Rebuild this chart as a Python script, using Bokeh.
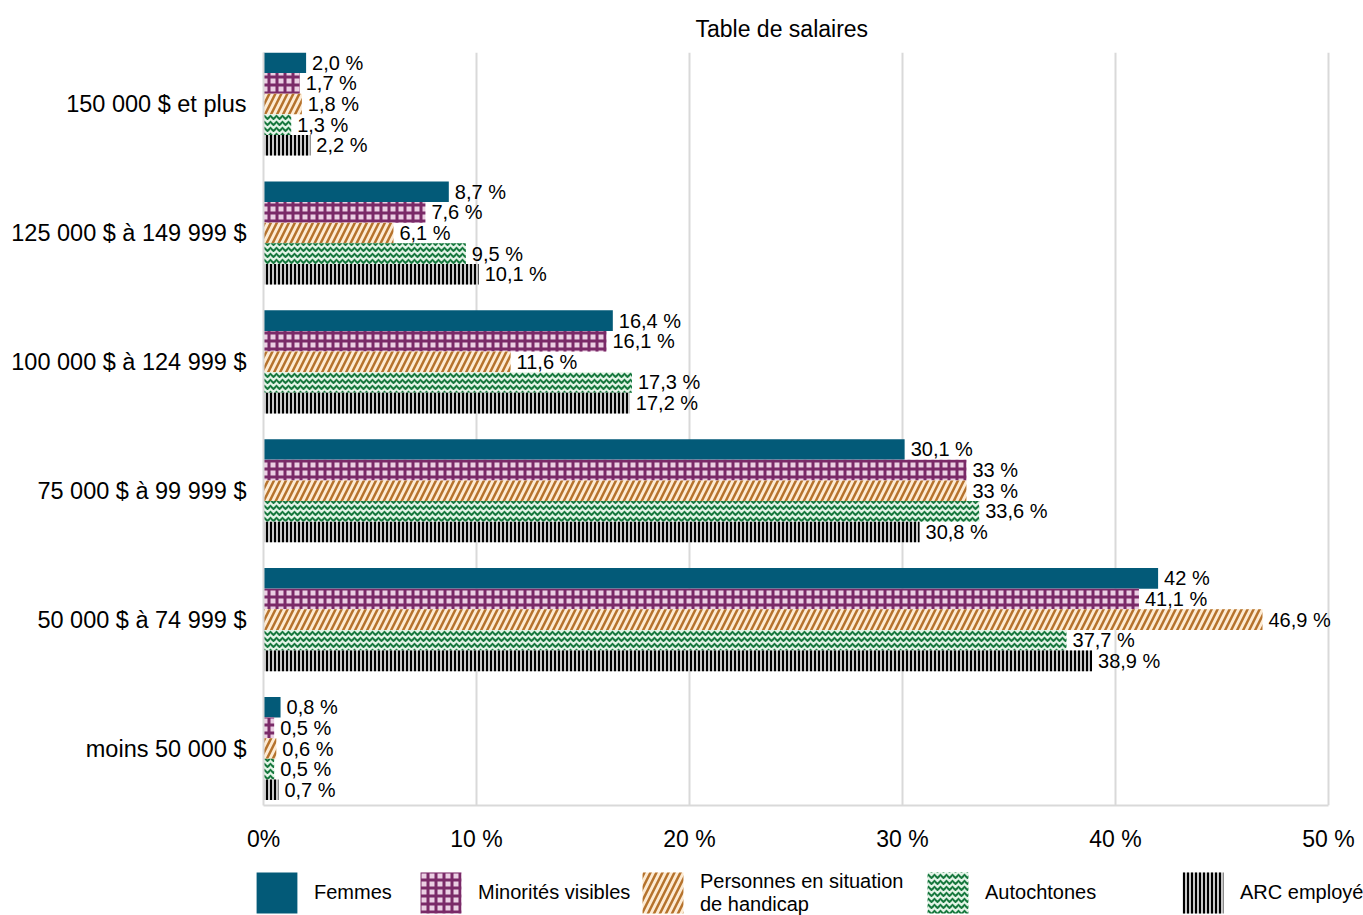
from bokeh.plotting import figure
from bokeh.layouts import column
from bokeh.models import (ColumnDataSource, Range1d, FixedTicker, Legend, LegendItem)
from bokeh.transform import dodge
from bokeh.core.properties import value
from bokeh.embed import file_html
from bokeh.resources import INLINE

# ---------------- data (bottom -> top) ----------------
CATEGORIES = ["moins 50 000 $", "50 000 $ à 74 999 $", "75 000 $ à 99 999 $",
              "100 000 $ à 124 999 $", "125 000 $ à 149 999 $", "150 000 $ et plus"]
SERIES = ["Femmes", "Minorités visibles", "Personnes en situation\nde handicap",
          "Autochtones", "ARC employé"]
FEMMES = [0.8, 42.0, 30.1, 16.4, 8.7, 2.0]
MINORITES = [0.5, 41.1, 33.0, 16.1, 7.6, 1.7]
HANDICAP = [0.6, 46.9, 33.0, 11.6, 6.1, 1.8]
AUTOCHTONES = [0.5, 37.7, 33.6, 17.3, 9.5, 1.3]
ARC = [0.7, 38.9, 30.8, 17.2, 10.1, 2.2]
LBL_FEMMES = ["0,8 %", "42 %", "30,1 %", "16,4 %", "8,7 %", "2,0 %"]
LBL_MINORITES = ["0,5 %", "41,1 %", "33 %", "16,1 %", "7,6 %", "1,7 %"]
LBL_HANDICAP = ["0,6 %", "46,9 %", "33 %", "11,6 %", "6,1 %", "1,8 %"]
LBL_AUTOCHTONES = ["0,5 %", "37,7 %", "33,6 %", "17,3 %", "9,5 %", "1,3 %"]
LBL_ARC = ["0,7 %", "38,9 %", "30,8 %", "17,2 %", "10,1 %", "2,2 %"]
X_TICKS = [0, 10, 20, 30, 40, 50]
X_TICK_LABELS = ["0%", "10 %", "20 %", "30 %", "40 %", "50 %"]
TITLE = "Table de salaires"

FONT = "Liberation Sans"

source = ColumnDataSource(dict(
    pos=list(range(len(CATEGORIES))),
    femmes=FEMMES, minorites=MINORITES, handicap=HANDICAP,
    autochtones=AUTOCHTONES, arc=ARC,
    l_femmes=LBL_FEMMES, l_minorites=LBL_MINORITES, l_handicap=LBL_HANDICAP,
    l_autochtones=LBL_AUTOCHTONES, l_arc=LBL_ARC,
))

PX_PER_UNIT = 1065 / 50.0
p = figure(width=1363, height=860, output_backend="svg", toolbar_location=None,
           x_range=Range1d(0, 50 + 35 / PX_PER_UNIT), y_range=Range1d(-0.442, 5.40),
           min_border_left=263, min_border_right=0, min_border_top=52,
           min_border_bottom=55)
p.outline_line_color = None
p.background_fill_color = "white"
p.border_fill_color = "white"

p.title.text = TITLE
p.title.align = "left"
p.title.offset = 432
p.title.standoff = 22
p.title.text_font = FONT
p.title.text_font_size = "23px"
p.title.text_font_style = "normal"
p.title.text_color = "#000000"

styles = [
    dict(fill_color="#035a78"),
    dict(fill_color="#ebcfe3", hatch_pattern="cross", hatch_color="#7a2a68",
         hatch_scale=8, hatch_weight=3),
    dict(fill_color="#fdebd3", hatch_pattern="right_diagonal_line", hatch_color="#b5722c",
         hatch_scale=12, hatch_weight=2.5),
    dict(fill_color="#e2f3e6", hatch_pattern="horizontal_wave", hatch_color="#17783e",
         hatch_scale=6, hatch_weight=2),
    dict(fill_color="#c8c8c8", hatch_pattern="vertical_line", hatch_color="#000000",
         hatch_scale=4, hatch_weight=2),
]
cols = ["femmes", "minorites", "handicap", "autochtones", "arc"]
offsets = [0.32, 0.16, 0.0, -0.16, -0.32]
BAR_H = 0.16

for col, off, st in zip(cols, offsets, styles):
    p.hbar(y=dodge("pos", off, range=p.y_range), left=0, right=col, height=BAR_H,
           source=source, line_color=None, **st)
    p.text(x=col, y=dodge("pos", off, range=p.y_range), text="l_" + col, source=source,
           x_offset=6, text_align="left", text_baseline="middle",
           text_font=value(FONT), text_font_size="20px", text_color="#000000")

# axes
p.xgrid.grid_line_color = "#d9d9d9"
p.xgrid.grid_line_width = 2
p.ygrid.grid_line_color = None
p.xaxis.ticker = FixedTicker(ticks=X_TICKS)
p.xaxis.bounds = (X_TICKS[0], X_TICKS[-1])
p.xaxis.major_label_overrides = {t: l for t, l in zip(X_TICKS, X_TICK_LABELS)}
p.yaxis.ticker = FixedTicker(ticks=list(range(len(CATEGORIES))))
p.yaxis.major_label_overrides = {i: c for i, c in enumerate(CATEGORIES)}
for ax in (p.xaxis, p.yaxis):
    ax.axis_line_color = "#d9d9d9"
    ax.axis_line_width = 2
    ax.major_tick_line_color = None
    ax.minor_tick_line_color = None
    ax.major_tick_out = 0
    ax.major_tick_in = 0
    ax.major_label_text_font = FONT
    ax.major_label_text_color = "#000000"
p.xaxis.major_label_text_font_size = "23px"
p.xaxis.major_label_standoff = 20
p.yaxis.major_label_text_font_size = "23.5px"
p.yaxis.major_label_standoff = 17

# ---------------- legend strip (separate figure below) ----------------
lg = figure(width=1363, height=55, output_backend="svg", toolbar_location=None,
            x_range=Range1d(0, 1363), y_range=Range1d(0, 55),
            min_border_left=0, min_border_right=0, min_border_top=0, min_border_bottom=0)
x_shift = 263
if "frame_align" in lg.properties():
    lg.frame_align = False
    x_shift = 0
lg.axis.visible = False
lg.grid.visible = False
lg.outline_line_color = None
lg.background_fill_color = "white"
lg.border_fill_color = "white"
# one out-of-view row per swatch renderer so the legend glyphs are drawn
swatch_src = ColumnDataSource(dict(y=[-100], r=[1]))
LEG_X = [256, 420, 642, 927, 1182]
GLYPH = 51  # legend box; the drawn swatch is 80 % of it (~41 px)
for name, st, lx in zip(SERIES, styles, LEG_X):
    r = lg.hbar(y="y", left=0, right="r", height=1, source=swatch_src, line_color=None, **st)
    leg = Legend(items=[LegendItem(label=name, renderers=[r])],
                 location=(max(lx - 5 - x_shift, 0), -3), orientation="horizontal",
                 padding=0, margin=0, spacing=0,
                 glyph_width=GLYPH, glyph_height=GLYPH, label_standoff=12,
                 label_text_font=FONT, label_text_font_size="20px",
                 label_text_color="#000000", label_text_line_height=1.15,
                 border_line_color=None, background_fill_alpha=0)
    lg.add_layout(leg)

layout = column(p, lg, spacing=0)
open("out.html", "w").write(file_html(layout, INLINE))
